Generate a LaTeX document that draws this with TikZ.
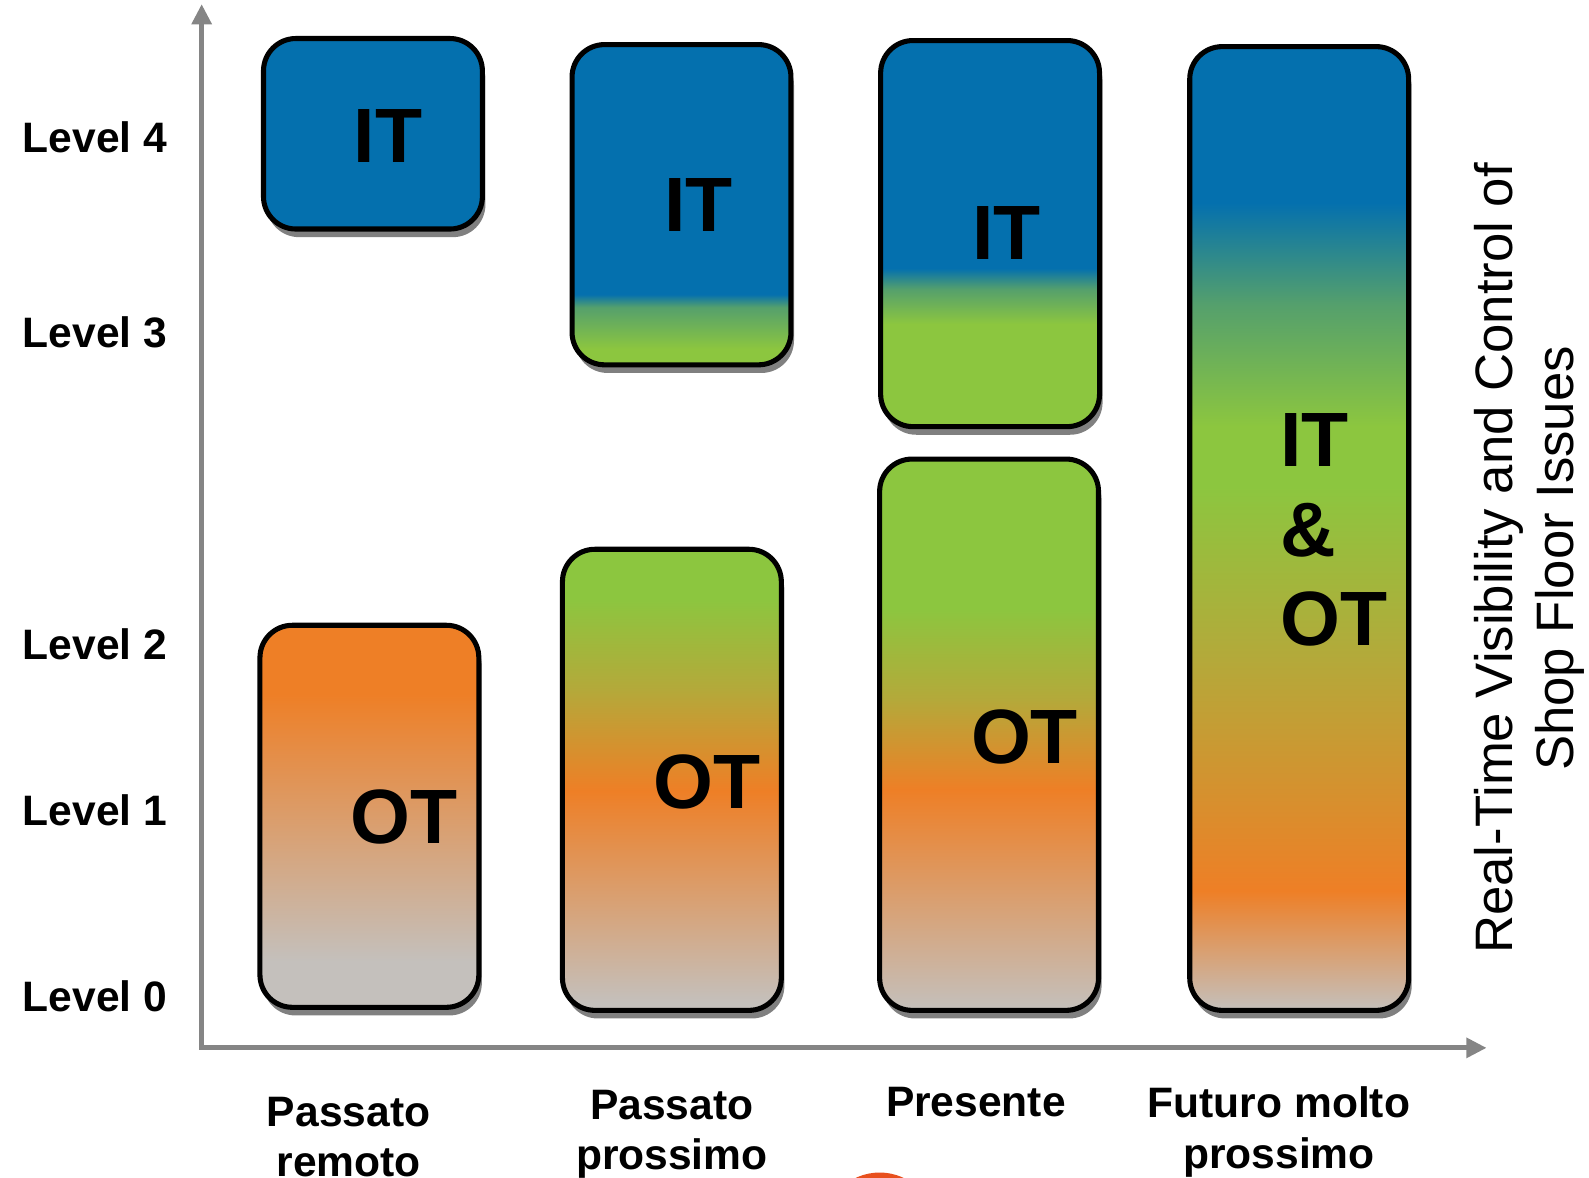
\documentclass[tikz,border=0pt]{standalone}
\usepackage{fontspec}
\setmainfont{Liberation Sans}
\usetikzlibrary{shadows,arrows.meta}
\definecolor{itblue}{HTML}{0470AE}
\definecolor{otgreen}{HTML}{8CC63F}
\definecolor{otteal}{HTML}{55A06C}
\definecolor{otolive}{HTML}{B4A93A}
\definecolor{otorange}{HTML}{EE7F26}
\definecolor{otgrey}{HTML}{C4C0BC}
\definecolor{axisgrey}{HTML}{858585}
\definecolor{dotred}{HTML}{E8501E}
\pgfdeclareverticalshading{shOneOT}{100bp}{color(0bp)=(otgrey); color(31bp)=(otgrey); color(66bp)=(otorange); color(100bp)=(otorange)}
\pgfdeclareverticalshading{shTwoIT}{100bp}{color(0bp)=(otgreen); color(27.5bp)=(otgreen); color(34bp)=(otteal); color(36bp)=(itblue); color(100bp)=(itblue)}
\pgfdeclareverticalshading{shTwoOT}{100bp}{color(0bp)=(otgrey); color(25.8bp)=(otgrey); color(48.8bp)=(otorange); color(59.8bp)=(otolive); color(69.7bp)=(otgreen); color(100bp)=(otgreen)}
\pgfdeclareverticalshading{shThreeIT}{100bp}{color(0bp)=(otgreen); color(38.3bp)=(otgreen); color(42.8bp)=(otteal); color(45.5bp)=(itblue); color(100bp)=(itblue)}
\pgfdeclareverticalshading{shThreeOT}{100bp}{color(0bp)=(otgrey); color(25bp)=(otgrey); color(45bp)=(otorange); color(53.2bp)=(otolive); color(61.5bp)=(otgreen); color(100bp)=(otgreen)}
\pgfdeclareverticalshading{shFour}{100bp}{color(0bp)=(otgrey); color(25bp)=(otgrey); color(31.2bp)=(otorange); color(43.2bp)=(otolive); color(52.2bp)=(otgreen); color(55.3bp)=(otgreen); color(61.6bp)=(otteal); color(66.9bp)=(itblue); color(100bp)=(itblue)}
\begin{document}
\begin{tikzpicture}[x=0.5pt,y=-0.5pt,
  box/.style={draw=black, line width=2.5pt, rounded corners=16pt, inner sep=0pt, minimum width=108pt,
    drop shadow={shadow xshift=1.5pt, shadow yshift=-4pt, fill=black!50, opacity=1}},
  lvl/.style={font=\fontsize{21}{25}\selectfont\bfseries, anchor=west, inner sep=0pt},
  era/.style={font=\fontsize{21}{25}\selectfont\bfseries, align=center, inner sep=0pt},
  tag/.style={font=\fontsize{38}{44}\selectfont\bfseries, inner sep=0pt},
  axis/.style={draw=axisgrey, line width=2.5pt, -{Triangle[width=9.5pt,length=10pt]}}]
\useasboundingbox (0,0) rectangle (1568,1162);
% axes
\coordinate (orig) at (199,1036);
\coordinate (ytip) at (199,4);
\coordinate (xstart) at (197,1034);
\coordinate (xtip) at (1467,1034);
\draw[axis] (orig) -- (ytip);
\draw[axis] (xstart) -- (xtip);
% boxes
\node[box, fill=itblue, minimum height=94pt] (b1it) at (368,132) {};
\node[box, shading=shOneOT, minimum height=188.5pt] (b1ot) at (364.5,805.5) {};
\node[box, shading=shTwoIT, minimum height=158pt] (b2it) at (672.5,202) {};
\node[box, shading=shTwoOT, minimum height=227.5pt] (b2ot) at (663,769.5) {};
\node[box, shading=shThreeIT, minimum height=190.5pt] (b3it) at (977,230.5) {};
\node[box, shading=shThreeOT, minimum height=272pt] (b3ot) at (976,725) {};
\node[box, shading=shFour, minimum height=475.5pt] (b4) at (1282,521.5) {};
% box texts
\node[tag] (t1it) at (383,134) {IT};
\node[tag] (t1ot) at (399,806) {OT};
\node[tag] (t2it) at (689,202) {IT};
\node[tag] (t2ot) at (698,772) {OT};
\node[tag] (t3it) at (993,230) {IT};
\node[tag] (t3ot) at (1011,727) {OT};
\node[tag, align=left, anchor=north west] (t4) at (1263,408) {IT\\\&\\OT};
% levels
\node[lvl] (l4) at (22,135) {Level 4};
\node[lvl] (l3) at (22,328) {Level 3};
\node[lvl] (l2) at (22,636) {Level 2};
\node[lvl] (l1) at (22,800) {Level 1};
\node[lvl] (l0) at (22,983) {Level 0};
% eras
\node[era, anchor=north] (e1) at (344,1082) {Passato\\remoto};
\node[era, anchor=north] (e2) at (663,1075) {Passato\\prossimo};
\node[era] (e3) at (963,1087) {Presente};
\node[era, anchor=north] (e4) at (1262,1072) {Futuro molto\\prossimo};
% side title
\node[font=\fontsize{26}{30}\selectfont, rotate=90, align=center, inner sep=0pt] (side) at (1509,551) {Real-Time Visibility and Control of\\Shop Floor Issues};
% partial dot at the bottom edge
\node[circle, fill=dotred, minimum size=55pt, inner sep=0pt] (dot) at (868,1212) {};
\end{tikzpicture}
\end{document}
